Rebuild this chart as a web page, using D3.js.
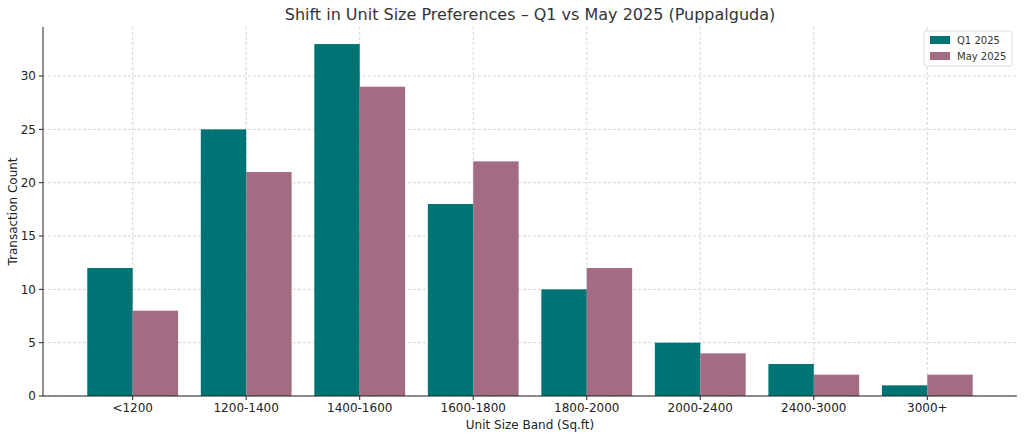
<!DOCTYPE html><html><head><meta charset="utf-8">
<script src="https://cdn.jsdelivr.net/npm/d3@7"></script>
<style>body{margin:0;background:#fff;font-family:"DejaVu Sans",sans-serif}</style></head><body>
<svg id="c" width="1024" height="435"></svg>
<script>
const categories=["<1200","1200-1400","1400-1600","1600-1800","1800-2000","2000-2400","2400-3000","3000+"];
const q1=[12,25,33,18,10,5,3,1];
const may=[8,21,29,22,12,4,2,2];
const yTicks=[0,5,10,15,20,25,30];
const seriesNames=["Q1 2025","May 2025"];
const colors=["#007474","#a26d84"];
const svg=d3.select("#c");
const L=43,R=1017,T=27,B=396;
const x=d3.scaleLinear().domain([-0.79,7.79]).range([L,R]);
const y=d3.scaleLinear().domain([0,34.6]).range([B,T]);
const g=svg.append("g");
yTicks.forEach(t=>g.append("line").attr("x1",L).attr("x2",R).attr("y1",y(t)).attr("y2",y(t)).attr("stroke","#ccc").attr("stroke-dasharray","3,2").attr("stroke-width",0.8));
categories.forEach((c,i)=>g.append("line").attr("x1",x(i)).attr("x2",x(i)).attr("y1",T).attr("y2",B).attr("stroke","#ccc").attr("stroke-dasharray","3,2").attr("stroke-width",0.8));
[q1,may].forEach((s,k)=>{
 g.selectAll(null).data(s).enter().append("rect")
  .attr("x",(d,i)=>x(i-0.4+0.4*k)).attr("width",x(0.4)-x(0))
  .attr("y",d=>y(d)).attr("height",d=>B-y(d)).attr("fill",colors[k]);
});
g.append("line").attr("x1",L).attr("x2",L).attr("y1",T).attr("y2",B).attr("stroke","#222");
g.append("line").attr("x1",L).attr("x2",R).attr("y1",B).attr("y2",B).attr("stroke","#222");
yTicks.forEach(t=>{g.append("line").attr("x1",L-4).attr("x2",L).attr("y1",y(t)).attr("y2",y(t)).attr("stroke","#222");
 g.append("text").attr("x",L-7).attr("y",y(t)).attr("dy","0.35em").attr("text-anchor","end").attr("font-size",12).attr("fill","#222").text(t);});
categories.forEach((c,i)=>{g.append("line").attr("x1",x(i)).attr("x2",x(i)).attr("y1",B).attr("y2",B+4).attr("stroke","#222");
 g.append("text").attr("x",x(i)).attr("y",B+12).attr("dy","0.35em").attr("text-anchor","middle").attr("font-size",12).attr("fill","#222").text(c);});
svg.append("text").attr("x",(L+R)/2).attr("y",20).attr("text-anchor","middle").attr("font-size",16).attr("fill","#333").text("Shift in Unit Size Preferences – Q1 vs May 2025 (Puppalguda)");
svg.append("text").attr("x",(L+R)/2).attr("y",429).attr("text-anchor","middle").attr("font-size",12).attr("fill","#222").text("Unit Size Band (Sq.ft)");
svg.append("text").attr("transform",`translate(17,${(T+B)/2}) rotate(-90)`).attr("text-anchor","middle").attr("font-size",12).attr("fill","#222").text("Transaction Count");
const lg=svg.append("g").attr("transform","translate(924,31)");
lg.append("rect").attr("width",88).attr("height",35).attr("rx",2).attr("fill","#fff").attr("stroke","#ddd");
seriesNames.forEach((n,k)=>{lg.append("rect").attr("x",6).attr("y",5+k*16).attr("width",20).attr("height",8).attr("fill",colors[k]);
 lg.append("text").attr("x",33).attr("y",9+k*16).attr("dy","0.35em").attr("font-size",10).attr("fill","#333").text(n);});
</script></body></html>
